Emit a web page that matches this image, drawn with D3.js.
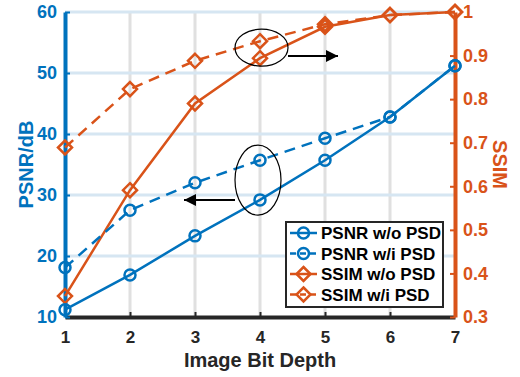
<!DOCTYPE html>
<html>
<head>
<meta charset="utf-8">
<script src="https://cdn.jsdelivr.net/npm/d3@7"></script>
<style>
  body { margin: 0; background: #fff; }
  svg { font-family: "Liberation Sans", Arial, sans-serif; font-weight: bold; }
</style>
</head>
<body>
<svg id="chart" width="520" height="377"></svg>
<script>
// data
const bitDepth = [1, 2, 3, 4, 5, 6, 7];
const psnrWo = [11.2, 16.9, 23.3, 29.2, 35.7, 42.8, 51.2];
const psnrWi = [18.1, 27.5, 32.0, 35.7, 39.3, 42.8, 51.2];
const ssimWo = [0.348, 0.591, 0.790, 0.894, 0.966, 0.993, 1.0];
const ssimWi = [0.689, 0.823, 0.888, 0.933, 0.972, 0.993, 1.0];
const psnrTicks = [10, 20, 30, 40, 50, 60];
const ssimTicks = [0.3, 0.4, 0.5, 0.6, 0.7, 0.8, 0.9, 1];

const blue = "#0072BD", orange = "#D95319", dark = "#262626";
const margin = {top: 12, right: 65, bottom: 60, left: 65};
const width = 520 - margin.left - margin.right;
const height = 377 - margin.top - margin.bottom;

const svg = d3.select("#chart")
    .append("g")
    .attr("transform", `translate(${margin.left},${margin.top})`);

const x = d3.scaleLinear().domain([1, 7]).range([0, width]);
const yL = d3.scaleLinear().domain([10, 60]).range([height, 0]);
const yR = d3.scaleLinear().domain([0.3, 1]).range([height, 0]);

// grid
svg.append("g").selectAll("line").data(bitDepth.slice(1, -1)).enter().append("line")
    .attr("x1", d => x(d)).attr("x2", d => x(d))
    .attr("y1", 0).attr("y2", height)
    .attr("stroke", "#e0e0e0").attr("stroke-width", 3);
svg.append("g").selectAll("line").data(psnrTicks.slice(1)).enter().append("line")
    .attr("x1", 0).attr("x2", width)
    .attr("y1", d => yL(d)).attr("y2", d => yL(d))
    .attr("stroke", "#d6e6f2").attr("stroke-width", 3);

// axes
function styleAxis(g, color, size) {
    g.select(".domain").attr("stroke", color).attr("stroke-width", 4);
    g.selectAll(".tick line").attr("stroke", color).attr("stroke-width", 2);
    g.selectAll(".tick text").attr("fill", color).attr("font-size", size)
        .attr("font-weight", "bold").attr("font-family", "Liberation Sans, Arial, sans-serif");
}

const xAxis = svg.append("g")
    .attr("transform", `translate(0,${height})`)
    .call(d3.axisBottom(x).tickValues(bitDepth).tickFormat(d3.format("d"))
        .tickSizeInner(-5).tickSizeOuter(0).tickPadding(14));
styleAxis(xAxis, dark, 17);

const leftAxis = svg.append("g")
    .call(d3.axisLeft(yL).tickValues(psnrTicks)
        .tickSizeInner(-5).tickSizeOuter(0).tickPadding(8));
styleAxis(leftAxis, blue, 18);

const rightAxis = svg.append("g")
    .attr("transform", `translate(${width},0)`)
    .call(d3.axisRight(yR).tickValues(ssimTicks).tickFormat(d => d === 1 ? "1" : d3.format(".1f")(d))
        .tickSizeInner(-5).tickSizeOuter(0).tickPadding(8));
styleAxis(rightAxis, orange, 18);

// axis labels
svg.append("text")
    .attr("x", width / 2).attr("y", height + 50)
    .attr("text-anchor", "middle").attr("font-size", 20).attr("fill", dark)
    .text("Image Bit Depth");
svg.append("text")
    .attr("transform", `translate(${-32},${height / 2}) rotate(-90)`)
    .attr("text-anchor", "middle").attr("font-size", 20).attr("fill", blue)
    .text("PSNR/dB");
svg.append("text")
    .attr("transform", `translate(${width + 38},${height / 2}) rotate(90)`)
    .attr("text-anchor", "middle").attr("font-size", 20).attr("fill", orange)
    .text("SSIM");

// series
const series = [
    {name: "PSNR w/o PSD", vals: psnrWo, y: yL, color: blue, dash: null, marker: "circle"},
    {name: "PSNR w/i PSD", vals: psnrWi, y: yL, color: blue, dash: "11,7", marker: "circle"},
    {name: "SSIM w/o PSD", vals: ssimWo, y: yR, color: orange, dash: null, marker: "diamond"},
    {name: "SSIM w/i PSD", vals: ssimWi, y: yR, color: orange, dash: "11,7", marker: "diamond"}
];

function drawMarker(g, type, cx, cy, color) {
    if (type === "circle") {
        g.append("circle").attr("cx", cx).attr("cy", cy).attr("r", 5.5)
            .attr("fill", "none").attr("stroke", color).attr("stroke-width", 2.5);
    } else {
        const s = 7;
        g.append("path")
            .attr("d", `M${cx},${cy - s}L${cx + s},${cy}L${cx},${cy + s}L${cx - s},${cy}Z`)
            .attr("fill", "none").attr("stroke", color).attr("stroke-width", 2.5);
    }
}

const lines = svg.append("g");
series.slice().reverse().forEach(s => {
    const line = d3.line().x((d, i) => x(bitDepth[i])).y(d => s.y(d));
    lines.append("path").datum(s.vals)
        .attr("d", line)
        .attr("fill", "none").attr("stroke", s.color).attr("stroke-width", 2.5)
        .attr("stroke-dasharray", s.dash);
    s.vals.forEach((v, i) => drawMarker(lines, s.marker, x(bitDepth[i]), s.y(v), s.color));
});

// annotations: ellipses and arrows
svg.append("defs").append("marker")
    .attr("id", "arrow").attr("viewBox", "0 0 10 10")
    .attr("refX", 10).attr("refY", 5)
    .attr("markerWidth", 6.5).attr("markerHeight", 6)
    .attr("markerUnits", "strokeWidth").attr("orient", "auto")
    .append("path").attr("d", "M0,0L10,5L0,10Z").attr("fill", "#000");

svg.append("ellipse")
    .attr("cx", x(4) + 1.5).attr("cy", (yR(ssimWo[3]) + yR(ssimWi[3])) / 2 - 2)
    .attr("rx", 26.5).attr("ry", 18.5)
    .attr("fill", "none").attr("stroke", "#000").attr("stroke-width", 1.2);
svg.append("line")
    .attr("x1", x(4) + 28).attr("x2", x(4) + 78)
    .attr("y1", 44).attr("y2", 44)
    .attr("stroke", "#000").attr("stroke-width", 2).attr("marker-end", "url(#arrow)");

svg.append("ellipse")
    .attr("cx", x(4) - 2).attr("cy", (yL(psnrWo[3]) + yL(psnrWi[3])) / 2)
    .attr("rx", 23).attr("ry", 35)
    .attr("fill", "none").attr("stroke", "#000").attr("stroke-width", 1.2);
svg.append("line")
    .attr("x1", x(4) - 25).attr("x2", x(4) - 76)
    .attr("y1", 188).attr("y2", 188)
    .attr("stroke", "#000").attr("stroke-width", 2).attr("marker-end", "url(#arrow)");

// legend
const legend = svg.append("g").attr("transform", `translate(${221},${210})`);
legend.append("rect")
    .attr("width", 157).attr("height", 85)
    .attr("fill", "#fff").attr("stroke", dark).attr("stroke-width", 2);
series.forEach((s, i) => {
    const ly = 11 + i * 20.5;
    legend.append("line")
        .attr("x1", 4).attr("x2", 31).attr("y1", ly).attr("y2", ly)
        .attr("stroke", s.color).attr("stroke-width", 2.5)
        .attr("stroke-dasharray", s.dash ? "6,4" : null);
    drawMarker(legend, s.marker, 17.5, ly, s.color);
    legend.append("text")
        .attr("x", 35).attr("y", ly + 6)
        .attr("font-size", 17).attr("fill", "#000")
        .text(s.name);
});
</script>
</body>
</html>
